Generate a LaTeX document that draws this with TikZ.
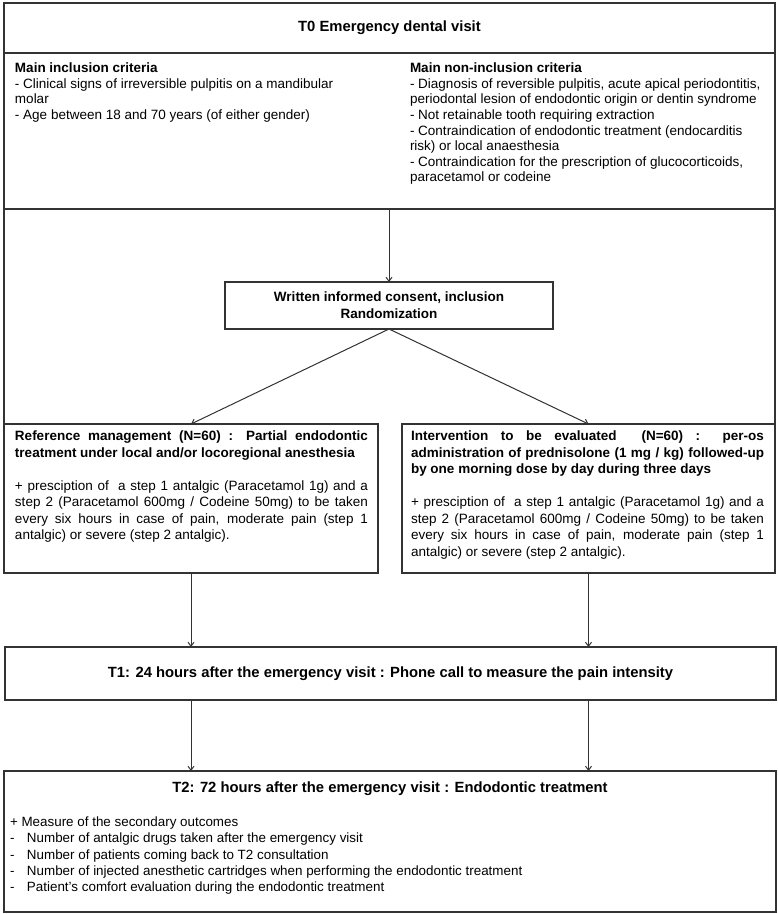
\documentclass[tikz,border=0pt]{standalone}
\usepackage{fontspec}
\setmainfont{Liberation Sans}
\usetikzlibrary{arrows.meta}
\definecolor{linec}{gray}{0.2}
\newcommand\fhead{\fontsize{14.8}{17}\selectfont\bfseries}
\newcommand\fcrit{\fontsize{13.5}{15.6}\selectfont}
\newcommand\fbody{\fontsize{13.5}{16.5}\selectfont}
\newcommand\flist{\fontsize{13.4}{16.2}\selectfont}
\newcommand\jline[1]{\makebox[353pt][s]{#1}}
\newcommand\dashitem{\makebox[17pt][l]{-}}
\begin{document}
\begin{tikzpicture}[x=1pt,y=-1pt,
  box/.style={draw=linec,line width=1.2pt,inner sep=0pt,outer sep=0pt,anchor=north west},
  txt/.style={inner sep=0pt,outer sep=0pt,anchor=north west,align=left},
  arr/.style={draw=linec,line width=1pt,-{Straight Barb[length=4pt,width=6pt]}},
  frameline/.style={draw=linec,line width=1.2pt}]
\useasboundingbox (0,0) rectangle (778,914);
% top block
\node[box,minimum width=771pt,minimum height=50pt,font=\fhead] (t0) at (4,3) {T0 Emergency dental visit};
\node[box,minimum width=771pt,minimum height=156pt] (crit) at (4,53) {};
\node[txt,font=\fcrit] (inc) at (15,63) {\textbf{Main inclusion criteria}\\
- Clinical signs of irreversible pulpitis on a mandibular\\
molar\\
- Age between 18 and 70 years (of either gender)};
\node[txt,font=\fcrit] (noninc) at (410,63) {\textbf{Main non-inclusion criteria}\\
- Diagnosis of reversible pulpitis, acute apical periodontitis,\\
periodontal lesion of endodontic origin or dentin syndrome\\
- Not retainable tooth requiring extraction\\
- Contraindication of endodontic treatment (endocarditis\\
risk) or local anaesthesia\\
- Contraindication for the prescription of glucocorticoids,\\
paracetamol or codeine};
% consent
\node[box,minimum width=328pt,minimum height=47pt,align=center,font=\fontsize{13.5}{17}\selectfont\bfseries] (cons) at (225,282) {Written informed consent, inclusion\\Randomization};
% arms
\node[box,minimum width=374pt,minimum height=149pt] (ref) at (4,424) {};
\node[box,minimum width=373pt,minimum height=149pt] (int) at (402,424) {};
\node[txt,font=\fbody] (reftxt) at (15,431) {\jline{\textbf{Reference management (N=60) : Partial endodontic}}\\
\textbf{treatment under local and/or locoregional anesthesia}\\[16.5pt]
\jline{+ presciption of \ a step 1 antalgic (Paracetamol 1g) and a}\\
\jline{step 2 (Paracetamol 600mg / Codeine 50mg) to be taken}\\
\jline{every six hours in case of pain, moderate pain (step 1}\\
antalgic) or severe (step 2 antalgic).};
\node[txt,font=\fbody] (inttxt) at (411,431) {\jline{\textbf{Intervention to be evaluated \ (N=60) : per-os}}\\
\jline{\textbf{administration of prednisolone (1 mg / kg) followed-up}}\\
\textbf{by one morning dose by day during three days}\\[16.5pt]
\jline{+ presciption of \ a step 1 antalgic (Paracetamol 1g) and a}\\
\jline{step 2 (Paracetamol 600mg / Codeine 50mg) to be taken}\\
\jline{every six hours in case of pain, moderate pain (step 1}\\
antalgic) or severe (step 2 antalgic).};
% T1
\node[box,minimum width=771pt,minimum height=53pt,font=\fhead] (t1) at (5,647) {T1: 24 hours after the emergency visit : Phone call to measure the pain intensity};
% T2
\node[box,minimum width=772pt,minimum height=141pt] (t2) at (4,771) {};
\node[inner sep=0pt,font=\fhead] (t2title) at (390,789) {T2: 72 hours after the emergency visit : Endodontic treatment};
\node[txt,font=\flist] (t2txt) at (10,817) {+ Measure of the secondary outcomes\\
\dashitem Number of antalgic drugs taken after the emergency visit\\
\dashitem Number of patients coming back to T2 consultation\\
\dashitem Number of injected anesthetic cartridges when performing the endodontic treatment\\
\dashitem Patient’s comfort evaluation during the endodontic treatment};
% frame sides of the middle section
\draw[frameline] (crit.south west) -- (crit.south west |- ref.north);
\draw[frameline] (crit.south east) -- (crit.south east |- int.north);
% connectors
\draw[arr] (crit.south -| cons.north) -- (cons.north);
\draw[arr] (cons.south) -- (ref.north);
\draw[arr] (cons.south) -- (int.north);
\draw[arr] (ref.south) -- (ref.south |- t1.north);
\draw[arr] (int.south) -- (int.south |- t1.north);
\draw[arr] (ref.south |- t1.south) -- (ref.south |- t2.north);
\draw[arr] (int.south |- t1.south) -- (int.south |- t2.north);
\end{tikzpicture}
\end{document}
